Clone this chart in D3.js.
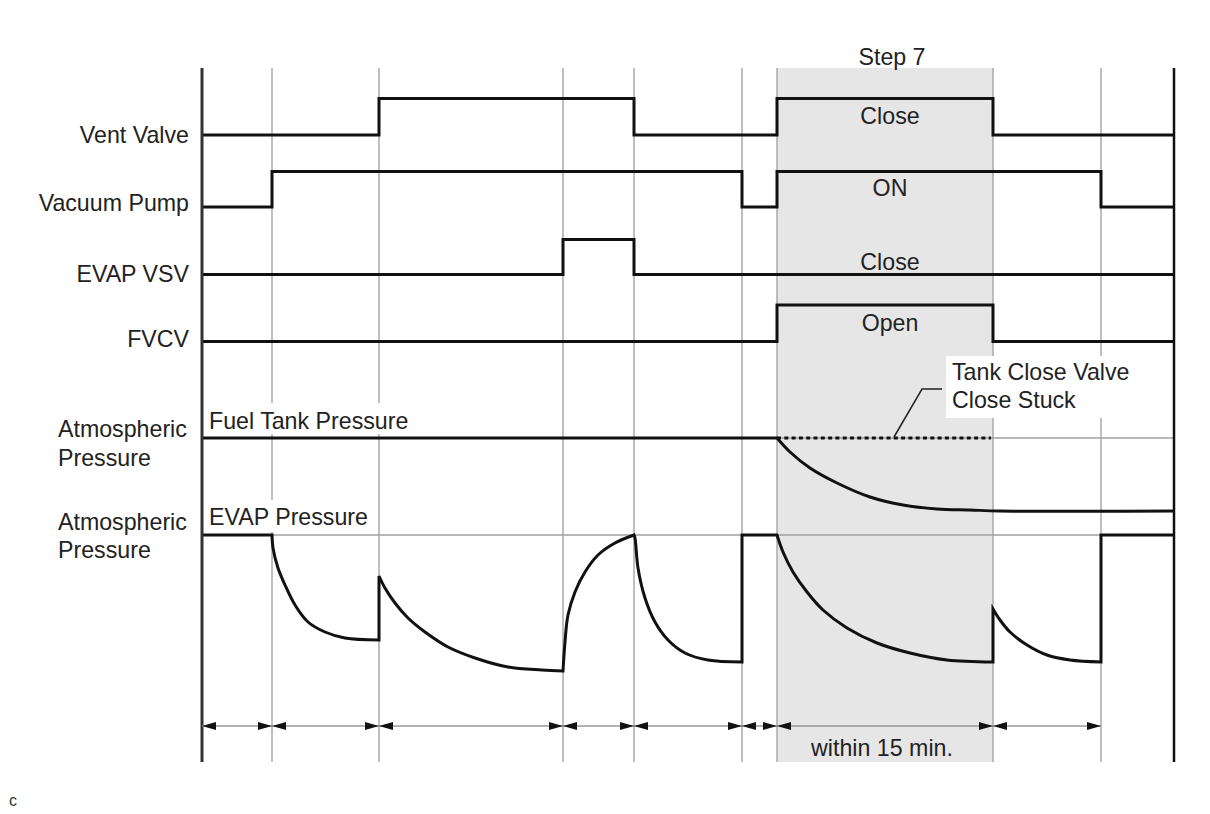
<!DOCTYPE html>
<html>
<head>
<meta charset="utf-8">
<script src="https://cdn.jsdelivr.net/npm/d3@7"></script>
<style>
  body { margin: 0; background: #fff; }
  svg { display: block; font-family: "Liberation Sans", Arial, sans-serif; }
  .grid { stroke: #aaa; stroke-width: 1.5; }
  .ref { stroke: #a0a0a0; stroke-width: 1.5; }
  .sig { fill: none; stroke: #111; stroke-width: 3; stroke-linejoin: miter; }
  .lbl { font-size: 23.2px; fill: #222; }
</style>
</head>
<body>
<svg id="chart" width="1210" height="814"></svg>
<script>
  // step boundaries (time units)
  let bounds = [0, 70, 177, 361, 432, 540, 575, 791, 899, 972];

  let trackNames = ['Vent Valve', 'Vacuum Pump', 'EVAP VSV', 'FVCV'];
  // state per interval between bounds (0 = low, 1 = high)
  let ventValve = [0, 0, 1, 1, 0, 0, 1, 0, 0];
  let vacuumPump = [0, 1, 1, 1, 1, 0, 1, 1, 0];
  let evapVsv = [0, 0, 0, 1, 0, 0, 0, 0, 0];
  let fvcv = [0, 0, 0, 0, 0, 0, 1, 0, 0];
  let stateLabels = ['Close', 'ON', 'Close', 'Open'];

  // pressures relative to atmospheric, pieces joined by straight jumps
  let fuelTankPressure = [
    [[0, 0], [575, 0]],
    [[575, 0], [588, -14], [608, -30], [635, -45], [668, -59], [701, -67], [735, -71], [768, -72], [798, -73], [972, -73]]
  ];
  let fuelTankStuck = [[575, 0], [789, 0]];

  let evapPressure = [
    [[0, 0], [70, 0]],
    [[70, 0], [71, -13], [76, -33], [83, -50], [93, -70], [106, -87], [123, -97], [143, -103], [177, -105]],
    [[177, -41], [183, -53], [193, -68], [206, -83], [223, -97], [246, -112], [273, -123], [306, -132], [340, -135], [361, -136]],
    [[361, -136], [363, -107], [366, -80], [373, -57], [383, -37], [396, -20], [413, -8], [432, 0]],
    [[432, 0], [433, -3], [436, -33], [443, -63], [453, -87], [466, -105], [483, -118], [506, -125], [540, -127]],
    [[540, 0], [575, 0]],
    [[575, 0], [581, -17], [591, -37], [605, -57], [621, -75], [645, -93], [675, -108], [708, -118], [745, -125], [791, -127]],
    [[791, -74], [798, -85], [808, -97], [825, -110], [845, -120], [868, -125], [899, -127]],
    [[899, 0], [972, 0]]
  ];

  (function() {
    let svg = d3.select('#chart');
    let yTop = 68, yBottom = 762;

    let x = d3.scaleLinear().domain([0, 972]).range([202, 1174]);
    let fuelY = d3.scaleLinear().domain([0, -140]).range([438, 578]);
    let evapY = d3.scaleLinear().domain([0, -140]).range([535, 675]);

    let tracks = [
      { states: ventValve, low: 135, high: 98.5, labelY: 143 },
      { states: vacuumPump, low: 207, high: 171.5, labelY: 211 },
      { states: evapVsv, low: 274.5, high: 239.5, labelY: 282 },
      { states: fvcv, low: 341.5, high: 305, labelY: 347 }
    ];

    // Step 7 shading
    svg.append('rect')
      .attr('x', x(bounds[6]))
      .attr('y', yTop)
      .attr('width', x(bounds[7]) - x(bounds[6]))
      .attr('height', yBottom - yTop)
      .attr('fill', '#e6e6e6');

    svg.append('g').selectAll('line')
      .data(bounds.slice(1, -1))
      .enter()
      .append('line')
      .attr('class', 'grid')
      .attr('x1', function(d) { return x(d); })
      .attr('x2', function(d) { return x(d); })
      .attr('y1', yTop)
      .attr('y2', yBottom);

    // atmospheric reference lines
    [fuelY(0), evapY(0)].forEach(function(y) {
      svg.append('line')
        .attr('class', 'ref')
        .attr('x1', x(0)).attr('x2', x(972))
        .attr('y1', y).attr('y2', y);
    });

    // white label boxes
    svg.append('rect').attr('x', 205).attr('y', 403).attr('width', 212).attr('height', 31).attr('fill', '#fff');
    svg.append('rect').attr('x', 205).attr('y', 500).attr('width', 170).attr('height', 32).attr('fill', '#fff');
    svg.append('rect').attr('x', 946).attr('y', 356).attr('width', 200).attr('height', 62).attr('fill', '#fff');

    svg.append('text').attr('class', 'lbl').attr('x', 209).attr('y', 429).text('Fuel Tank Pressure');
    svg.append('text').attr('class', 'lbl').attr('x', 209).attr('y', 525).text('EVAP Pressure');
    svg.append('text').attr('class', 'lbl').attr('x', 952).attr('y', 380).text('Tank Close Valve');
    svg.append('text').attr('class', 'lbl').attr('x', 952).attr('y', 408).text('Close Stuck');

    [['Atmospheric', 437], ['Pressure', 466], ['Atmospheric', 530], ['Pressure', 558]].forEach(function(d) {
      svg.append('text').attr('class', 'lbl').attr('x', 58).attr('y', d[1]).text(d[0]);
    });

    // digital signals
    tracks.forEach(function(tr, i) {
      let y = d3.scaleLinear().domain([0, 1]).range([tr.low, tr.high]);
      let pts = tr.states.map(function(s, j) { return [bounds[j], s]; });
      pts.push([bounds[bounds.length - 1], tr.states[tr.states.length - 1]]);

      let line = d3.line()
        .x(function(d) { return x(d[0]); })
        .y(function(d) { return y(d[1]); })
        .curve(d3.curveStepAfter);

      svg.append('path').attr('class', 'sig').attr('d', line(pts));

      svg.append('text')
        .attr('class', 'lbl')
        .attr('x', 189)
        .attr('y', tr.labelY)
        .attr('text-anchor', 'end')
        .text(trackNames[i]);
    });

    let midX = (x(bounds[6]) + x(bounds[7])) / 2 + 5;
    [124, 196, 270, 331].forEach(function(y, i) {
      svg.append('text')
        .attr('class', 'lbl')
        .attr('x', midX)
        .attr('y', y)
        .attr('text-anchor', 'middle')
        .text(stateLabels[i]);
    });

    svg.append('text').attr('class', 'lbl').attr('x', midX + 2).attr('y', 65)
      .attr('text-anchor', 'middle').text('Step 7');
    svg.append('text').attr('class', 'lbl').attr('x', midX - 8).attr('y', 756)
      .attr('text-anchor', 'middle').text('within 15 min.');

    // join smooth pieces into one path
    function piecewise(pieces, y) {
      let line = d3.line()
        .x(function(d) { return x(d[0]); })
        .y(function(d) { return y(d[1]); })
        .curve(d3.curveCatmullRom.alpha(0.5));
      return pieces.map(function(p, i) {
        let s = line(p);
        return i === 0 ? s : 'L' + s.slice(1);
      }).join('');
    }

    svg.append('path').attr('class', 'sig').attr('d', piecewise(fuelTankPressure, fuelY));
    svg.append('path').attr('class', 'sig').attr('d', piecewise(evapPressure, evapY));

    svg.append('line')
      .attr('x1', x(fuelTankStuck[0][0])).attr('x2', x(fuelTankStuck[1][0]))
      .attr('y1', fuelY(fuelTankStuck[0][1])).attr('y2', fuelY(fuelTankStuck[1][1]))
      .attr('stroke', '#111')
      .attr('stroke-width', 3)
      .attr('stroke-dasharray', '4,3.3');

    // leader to the stuck note
    svg.append('path')
      .attr('d', 'M894,437L922,389L942,389')
      .attr('fill', 'none')
      .attr('stroke', '#222')
      .attr('stroke-width', 1.5);

    // frame lines
    svg.append('line').attr('x1', x(0)).attr('x2', x(0)).attr('y1', yTop).attr('y2', yBottom)
      .attr('stroke', '#333').attr('stroke-width', 3);
    svg.append('line').attr('x1', x(972)).attr('x2', x(972)).attr('y1', yTop).attr('y2', yBottom)
      .attr('stroke', '#111').attr('stroke-width', 2.5);

    // duration arrows
    let arrowY = 726;
    svg.append('line')
      .attr('x1', x(bounds[0])).attr('x2', x(bounds[8]))
      .attr('y1', arrowY).attr('y2', arrowY)
      .attr('stroke', '#999').attr('stroke-width', 1.5);

    let intervals = d3.pairs(bounds.slice(0, 9));
    let heads = [];
    intervals.forEach(function(d) {
      heads.push({ tip: x(d[0]), dir: 1 });
      heads.push({ tip: x(d[1]), dir: -1 });
    });
    svg.append('g').selectAll('path')
      .data(heads)
      .enter()
      .append('path')
      .attr('fill', '#111')
      .attr('d', function(d) {
        let b = d.tip + d.dir * 14;
        return 'M' + d.tip + ',' + arrowY + 'L' + b + ',' + (arrowY - 4) + 'L' + b + ',' + (arrowY + 4) + 'Z';
      });

    svg.append('text')
      .attr('x', 9)
      .attr('y', 806)
      .attr('font-size', 16)
      .attr('fill', '#333')
      .text('c');
  })();
</script>
</body>
</html>
